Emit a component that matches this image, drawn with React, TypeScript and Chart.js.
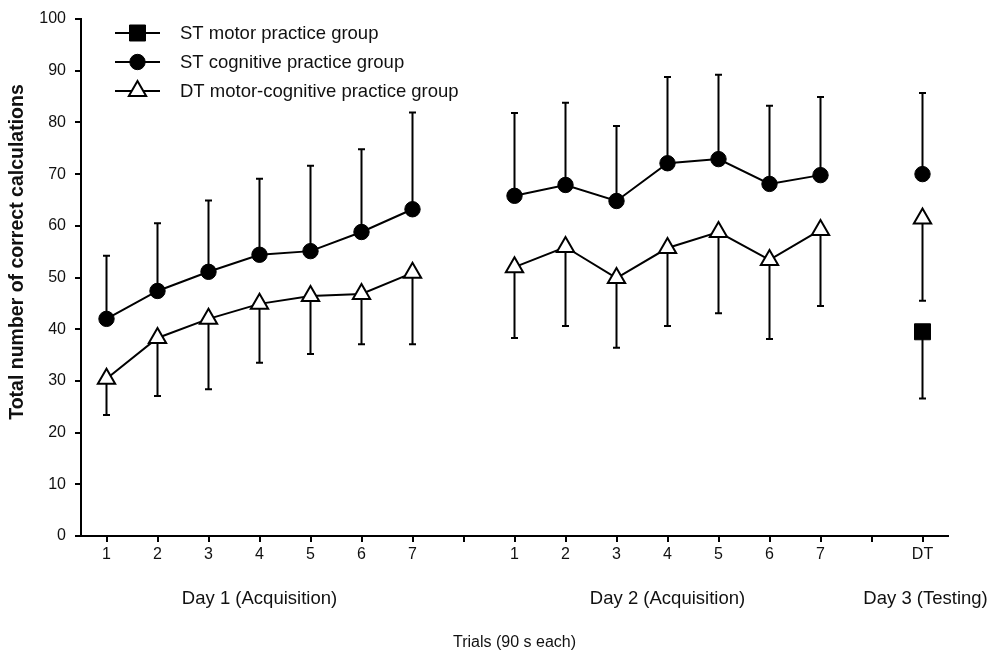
import React, { useEffect, useRef } from 'react';
import { Chart, registerables } from 'chart.js';
import { drawPoint } from 'chart.js/helpers';

Chart.register(...registerables);

// x categories: day 1 trials, gap, day 2 trials, gap, day 3 test
const trialLabels = ['1', '2', '3', '4', '5', '6', '7', '', '1', '2', '3', '4', '5', '6', '7', '', 'DT'];

const stMotorMeans = [null, null, null, null, null, null, null, null, null, null, null, null, null, null, null, null, 39.5];
const stMotorLower = [null, null, null, null, null, null, null, null, null, null, null, null, null, null, null, null, 26.6];

const stCognitiveMeans = [42.0, 47.4, 51.1, 54.4, 55.1, 58.8, 63.2, null, 65.8, 67.9, 64.8, 72.1, 72.9, 68.1, 69.8, null, 70.0];
const stCognitiveUpper = [54.2, 60.5, 64.9, 69.1, 71.6, 74.8, 81.9, null, 81.8, 83.8, 79.3, 88.8, 89.2, 83.2, 84.9, null, 85.7];

const dtMeans = [30.4, 38.3, 42.0, 44.9, 46.4, 46.8, 50.9, null, 52.0, 55.9, 49.9, 55.7, 58.8, 53.4, 59.2, null, 61.4];
const dtLower = [23.4, 27.1, 28.4, 33.5, 35.2, 37.1, 37.1, null, 38.3, 40.6, 36.4, 40.6, 43.1, 38.1, 44.5, null, 45.5];

const groupNames = ['ST motor practice group', 'ST cognitive practice group', 'DT motor-cognitive practice group'];
const dayLabels = ['Day 1 (Acquisition)', 'Day 2 (Acquisition)', 'Day 3 (Testing)'];

const FONT = '"Liberation Sans", Arial, sans-serif';
const INK = '#111';

// draws one-sided SD bars behind the markers
const errorBarPlugin = {
  id: 'errorBars',
  beforeDatasetsDraw(chart: any) {
    const { ctx } = chart;
    const y = chart.scales.y;
    chart.data.datasets.forEach((ds: any, di: number) => {
      const meta = chart.getDatasetMeta(di);
      const ends: (number | null)[] = ds.errorEnds || [];
      ctx.save();
      ctx.strokeStyle = '#000';
      ctx.lineWidth = 2;
      meta.data.forEach((pt: any, i: number) => {
        const v = ds.data[i];
        const e = ends[i];
        if (v == null || e == null) return;
        const x = pt.x;
        const y0 = y.getPixelForValue(v);
        const y1 = y.getPixelForValue(e);
        ctx.beginPath();
        ctx.moveTo(x, y0);
        ctx.lineTo(x, y1);
        ctx.moveTo(x - 3.5, y1);
        ctx.lineTo(x + 3.5, y1);
        ctx.stroke();
      });
      ctx.restore();
    });
  },
};

const labelsPlugin = {
  id: 'extraLabels',
  afterDraw(chart: any) {
    const { ctx, chartArea } = chart;
    const xs = chart.scales.x;
    ctx.save();

    // legend
    chart.data.datasets.forEach((ds: any, i: number) => {
      const cy = chartArea.top + 14 + i * 29;
      const x0 = chartArea.left + 34;
      ctx.strokeStyle = '#000';
      ctx.lineWidth = 2;
      ctx.beginPath();
      ctx.moveTo(x0, cy);
      ctx.lineTo(x0 + 45, cy);
      ctx.stroke();
      ctx.fillStyle = ds.pointBackgroundColor;
      ctx.strokeStyle = '#000';
      ctx.lineWidth = ds.pointBorderWidth;
      drawPoint(ctx, { pointStyle: ds.pointStyle, radius: ds.pointRadius, borderWidth: ds.pointBorderWidth, rotation: 0 }, x0 + 22.5, cy);
      ctx.fillStyle = INK;
      ctx.font = `18.5px ${FONT}`;
      ctx.textAlign = 'left';
      ctx.textBaseline = 'middle';
      ctx.fillText(ds.label, x0 + 65, cy + 1);
    });

    // day labels and axis titles
    ctx.fillStyle = INK;
    ctx.font = `18.5px ${FONT}`;
    ctx.textAlign = 'center';
    ctx.textBaseline = 'middle';
    ctx.fillText(dayLabels[0], xs.getPixelForValue(3), chartArea.bottom + 63);
    ctx.fillText(dayLabels[1], xs.getPixelForValue(11), chartArea.bottom + 63);
    ctx.fillText(dayLabels[2], xs.getPixelForValue(16.06), chartArea.bottom + 63);
    ctx.font = `16px ${FONT}`;
    ctx.fillText('Trials (90 s each)', (chartArea.left + chartArea.right) / 2, chartArea.bottom + 107);

    ctx.translate(18, 252);
    ctx.rotate(-Math.PI / 2);
    ctx.font = `bold 19.5px ${FONT}`;
    ctx.fillText('Total number of correct calculations', 0, 0);
    ctx.restore();
  },
};

const App: React.FC = () => {
  const chartRef = useRef<HTMLCanvasElement>(null);
  const chartInstance = useRef<Chart | null>(null);

  useEffect(() => {
    document.body.style.margin = '0';
    if (!chartRef.current) return;
    if (chartInstance.current) chartInstance.current.destroy();
    const ctx = chartRef.current.getContext('2d');
    if (!ctx) return;

    const lineStyle = {
      borderColor: '#000',
      borderWidth: 2,
      pointBorderColor: '#000',
      spanGaps: false,
      tension: 0,
    };

    chartInstance.current = new Chart(ctx, {
      type: 'line',
      data: {
        labels: trialLabels,
        datasets: [
          {
            ...lineStyle,
            label: groupNames[0],
            data: stMotorMeans,
            errorEnds: stMotorLower,
            pointStyle: 'rect',
            pointRadius: 11.3,
            pointBackgroundColor: '#000',
            pointBorderWidth: 1,
          } as any,
          {
            ...lineStyle,
            label: groupNames[1],
            data: stCognitiveMeans,
            errorEnds: stCognitiveUpper,
            pointStyle: 'circle',
            pointRadius: 7.7,
            pointBackgroundColor: '#000',
            pointBorderWidth: 1,
          } as any,
          {
            ...lineStyle,
            label: groupNames[2],
            data: dtMeans,
            errorEnds: dtLower,
            pointStyle: 'triangle',
            pointRadius: 10,
            pointBackgroundColor: '#fff',
            pointBorderWidth: 2,
          } as any,
        ],
      },
      options: {
        responsive: false,
        animation: false,
        devicePixelRatio: 1,
        layout: { padding: { top: 19, right: 52, left: 0, bottom: 0 } },
        plugins: {
          legend: { display: false },
          tooltip: { enabled: false },
        },
        scales: {
          x: {
            type: 'category',
            offset: true,
            afterFit: (scale: any) => {
              scale.height = 125;
            },
            grid: {
              offset: false,
              drawOnChartArea: false,
              drawTicks: true,
              tickLength: 6,
              color: '#000',
              lineWidth: 2,
            },
            border: { display: true, color: '#000', width: 2 },
            ticks: {
              autoSkip: false,
              maxRotation: 0,
              color: INK,
              padding: 3,
              font: { family: FONT, size: 16 },
            },
          },
          y: {
            min: 0,
            max: 100,
            afterFit: (scale: any) => {
              scale.width = 81;
            },
            grid: {
              drawOnChartArea: false,
              drawTicks: true,
              tickLength: 6,
              color: '#000',
              lineWidth: 2,
            },
            border: { display: true, color: '#000', width: 2 },
            ticks: {
              stepSize: 10,
              color: INK,
              padding: 9,
              font: { family: FONT, size: 16 },
            },
          },
        },
      },
      plugins: [errorBarPlugin, labelsPlugin],
    });

    return () => {
      if (chartInstance.current) {
        chartInstance.current.destroy();
        chartInstance.current = null;
      }
    };
  }, []);

  return (
    <div style={{ width: 1000, height: 661, background: '#fff' }}>
      <canvas ref={chartRef} width={1000} height={661}></canvas>
    </div>
  );
};

export default App;
